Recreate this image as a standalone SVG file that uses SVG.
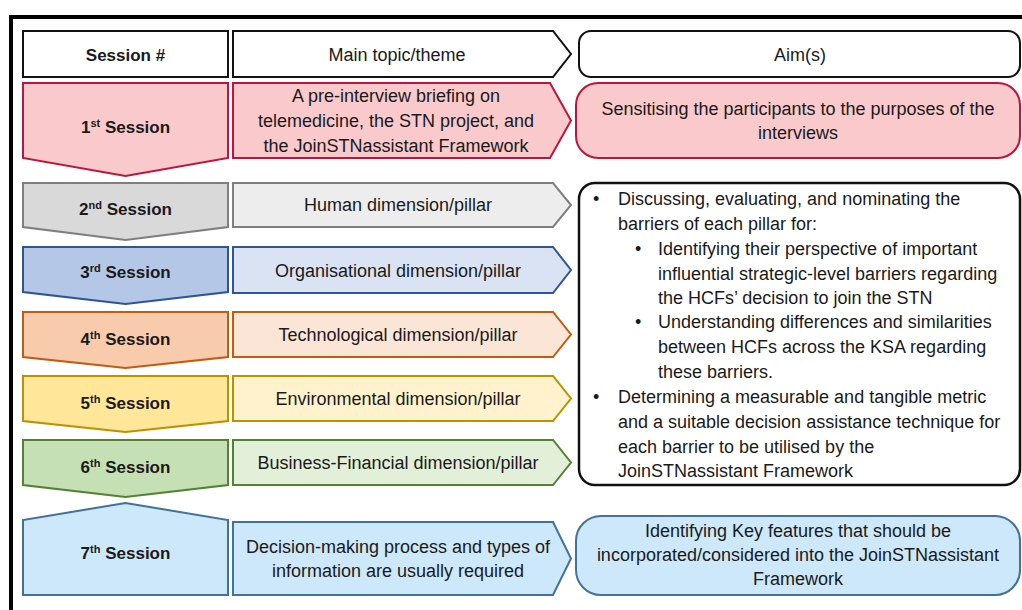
<svg xmlns="http://www.w3.org/2000/svg" width="1022" height="610" viewBox="0 0 1022 610">
<style>
text{font-family:"Liberation Sans",Arial,sans-serif;font-size:18px;fill:#1a1a1a}
.b{font-weight:bold;font-size:17px}
.c{text-anchor:middle}
.sup{font-size:11px}
.hd{fill:#fff;stroke:#111;stroke-width:2}
.s1{fill:#f9c9cc;stroke:#c0143c;stroke-width:2}
.s2{fill:#d9d9d9;stroke:#7f7f7f;stroke-width:2}
.m2{fill:#ededed;stroke:#7f7f7f;stroke-width:2}
.s3{fill:#b4c7e7;stroke:#2f5597;stroke-width:2}
.m3{fill:#dae3f3;stroke:#2f5597;stroke-width:2}
.s4{fill:#f8cbad;stroke:#c55a11;stroke-width:2}
.m4{fill:#fbe5d6;stroke:#c55a11;stroke-width:2}
.s5{fill:#ffe699;stroke:#bf9000;stroke-width:2}
.m5{fill:#fff2cc;stroke:#bf9000;stroke-width:2}
.s6{fill:#c5e0b4;stroke:#548235;stroke-width:2}
.m6{fill:#e2f0d9;stroke:#548235;stroke-width:2}
.s7{fill:#cde8fa;stroke:#41719c;stroke-width:2}
</style>
<rect x="0" y="0" width="1022" height="610" fill="#fff"/>
<rect x="11" y="17" width="1100" height="700" fill="none" stroke="#000" stroke-width="4"/>

<g id="header">
<rect class="hd" x="23" y="31" width="205" height="46"/>
<text class="b c" x="125.5" y="61">Session #</text>
<path class="hd" d="M233,31 L553,31 L571,54 L553,77 L233,77 Z"/>
<text class="c" x="397" y="61">Main topic/theme</text>
<rect class="hd" x="579" y="31" width="441" height="46" rx="12"/>
<text class="c" x="800" y="61">Aim(s)</text>
</g>

<g id="session1">
<path class="s1" d="M23,83 L228,83 L228,158 L125.5,176 L23,158 Z"/>
<text class="b c" x="125.5" y="133">1<tspan class="sup" dy="-6">st</tspan><tspan dy="6"> Session</tspan></text>
<path class="s1" d="M233,83 L550,83 L571,120.5 L550,158 L233,158 Z"/>
<text class="c" x="396" y="102">A pre-interview briefing on</text>
<text class="c" x="396" y="127">telemedicine, the STN project, and</text>
<text class="c" x="396" y="152">the JoinSTNassistant Framework</text>
<rect class="s1" x="576" y="83" width="444" height="75" rx="22"/>
<text class="c" x="798" y="115">Sensitising the participants to the purposes of the</text>
<text class="c" x="798" y="139">interviews</text>
</g>

<g id="session2">
<path class="s2" d="M23,183 L228,183 L228,227 L125.5,240 L23,227 Z"/>
<text class="b c" x="125.5" y="215">2<tspan class="sup" dy="-6">nd</tspan><tspan dy="6"> Session</tspan></text>
<path class="m2" d="M233,183 L553,183 L571,205 L553,227 L233,227 Z"/>
<text class="c" x="398" y="211">Human dimension/pillar</text>
</g>

<g id="session3">
<path class="s3" d="M23,247 L228,247 L228,292 L125.5,304 L23,292 Z"/>
<text class="b c" x="125.5" y="278">3<tspan class="sup" dy="-6">rd</tspan><tspan dy="6"> Session</tspan></text>
<path class="m3" d="M233,247 L553,247 L571,270 L553,293 L233,293 Z"/>
<text class="c" x="398" y="277">Organisational dimension/pillar</text>
</g>

<g id="session4">
<path class="s4" d="M23,312 L228,312 L228,357 L125.5,368 L23,357 Z"/>
<text class="b c" x="125.5" y="345">4<tspan class="sup" dy="-6">th</tspan><tspan dy="6"> Session</tspan></text>
<path class="m4" d="M233,312 L553,312 L571,334.5 L553,357 L233,357 Z"/>
<text class="c" x="398" y="341">Technological dimension/pillar</text>
</g>

<g id="session5">
<path class="s5" d="M23,376 L228,376 L228,421 L125.5,432 L23,421 Z"/>
<text class="b c" x="125.5" y="409">5<tspan class="sup" dy="-6">th</tspan><tspan dy="6"> Session</tspan></text>
<path class="m5" d="M233,376 L553,376 L571,398.5 L553,421 L233,421 Z"/>
<text class="c" x="398" y="405">Environmental dimension/pillar</text>
</g>

<g id="session6">
<path class="s6" d="M23,440 L228,440 L228,485 L125.5,497 L23,485 Z"/>
<text class="b c" x="125.5" y="473">6<tspan class="sup" dy="-6">th</tspan><tspan dy="6"> Session</tspan></text>
<path class="m6" d="M233,440 L553,440 L571,462.5 L553,485 L233,485 Z"/>
<text class="c" x="398" y="469">Business-Financial dimension/pillar</text>
</g>

<g id="aims2to6">
<rect x="579" y="183" width="441" height="302" rx="16" fill="#fff" stroke="#111" stroke-width="2.5"/>
<text x="593" y="205">•</text>
<text x="618" y="205">Discussing, evaluating, and nominating the</text>
<text x="618" y="230">barriers of each pillar for:</text>
<text x="635" y="255">•</text>
<text x="658" y="255">Identifying their perspective of important</text>
<text x="658" y="280">influential strategic-level barriers regarding</text>
<text x="658" y="304">the HCFs’ decision to join the STN</text>
<text x="635" y="328">•</text>
<text x="658" y="328">Understanding differences and similarities</text>
<text x="658" y="353">between HCFs across the KSA regarding</text>
<text x="658" y="378">these barriers.</text>
<text x="593" y="403">•</text>
<text x="618" y="403">Determining a measurable and tangible metric</text>
<text x="618" y="428">and a suitable decision assistance technique for</text>
<text x="618" y="453">each barrier to be utilised by the</text>
<text x="618" y="477">JoinSTNassistant Framework</text>
</g>

<g id="session7">
<path class="s7" d="M125.5,503 L228,520 L228,595 L23,595 L23,520 Z"/>
<text class="b c" x="125.5" y="559">7<tspan class="sup" dy="-6">th</tspan><tspan dy="6"> Session</tspan></text>
<path class="s7" d="M233,522 L553,522 L571,558.5 L553,595 L233,595 Z"/>
<text class="c" x="398" y="553">Decision-making process and types of</text>
<text class="c" x="398" y="577">information are usually required</text>
<rect class="s7" x="576" y="516" width="444" height="79" rx="25"/>
<text class="c" x="798" y="537">Identifying Key features that should be</text>
<text class="c" x="798" y="561">incorporated/considered into the JoinSTNassistant</text>
<text class="c" x="798" y="585">Framework</text>
</g>
</svg>
